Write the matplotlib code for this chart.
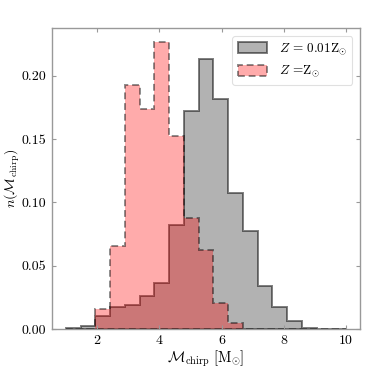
import numpy as np
import matplotlib
matplotlib.use("Agg")
import matplotlib.pyplot as plt

plt.rcParams['font.family'] = 'serif'
plt.rcParams['font.serif'] = ['cmr10', 'DejaVu Serif']
plt.rcParams['mathtext.fontset'] = 'cm'
plt.rcParams['axes.unicode_minus'] = False

# bin edges (19 bins between 1 and 10)
bin_lo = 1.0
bin_hi = 10.0
n_bins = 19

# fraction of systems per bin, Z = 0.01 Z_sun
frac_low_Z = [0.0010, 0.0024, 0.0106, 0.0177, 0.0188, 0.0262, 0.0362, 0.0820,
              0.1717, 0.2130, 0.1817, 0.1077, 0.0772, 0.0341, 0.0177, 0.0066,
              0.0005, 0.0, 0.0]
# fraction of systems per bin, Z = Z_sun
frac_sol_Z = [0.0, 0.0, 0.0161, 0.0653, 0.1929, 0.1738, 0.2262, 0.1526,
              0.0873, 0.0622, 0.0204, 0.0045, 0.0, 0.0, 0.0, 0.0,
              0.0, 0.0, 0.0]

labels = [r'$Z\,=\,0.01\mathrm{Z}_{\odot}$', r'$Z\,=\!\mathrm{Z}_{\odot}$']
xticks = [2, 4, 6, 8, 10]
yticks = [0.00, 0.05, 0.10, 0.15, 0.20]

edges = np.linspace(bin_lo, bin_hi, n_bins + 1)
centers = 0.5 * (edges[:-1] + edges[1:])

fig = plt.figure(figsize=(3.74, 3.74), dpi=100)
ax = fig.add_axes([0.139, 0.120, 0.824, 0.805])

ax.hist(centers, bins=edges, weights=frac_low_Z, histtype='stepfilled',
        facecolor=(0.5, 0.5, 0.5, 0.6), edgecolor=(0, 0, 0, 0.5),
        linewidth=1.4, label=labels[0])
ax.hist(centers, bins=edges, weights=frac_sol_Z, histtype='stepfilled',
        facecolor=(1.0, 0.0, 0.0, 0.33), edgecolor=(0, 0, 0, 0.45),
        linewidth=1.4, linestyle=(0, (3.5, 2)), label=labels[1])

ax.set_xticks(xticks)
ax.set_yticks(yticks)
ax.set_yticklabels([f'{v:.2f}' for v in yticks])
ax.tick_params(direction='in', top=True, right=True, length=3, width=0.8,
               color='0.6', labelsize=10, pad=4)
for s in ax.spines.values():
    s.set_color('0.6')
    s.set_linewidth(1.0)

ax.set_xlabel(r'$\mathcal{M}_{\rm chirp}\ [\mathrm{M}_{\odot}]$', fontsize=10.5, labelpad=1)
ax.set_ylabel(r'$n(\mathcal{M}_{\rm chirp})$', fontsize=10)
ax.yaxis.set_label_coords(-0.098, 0.5)

leg = ax.legend(loc='upper right', fontsize=9.5, frameon=True, fancybox=True,
                borderaxespad=0.6, handlelength=2.2, handleheight=0.9,
                handletextpad=0.9)
leg.get_frame().set_edgecolor('0.85')
leg.get_frame().set_linewidth(0.8)

fig.savefig('out.png', dpi=100)
